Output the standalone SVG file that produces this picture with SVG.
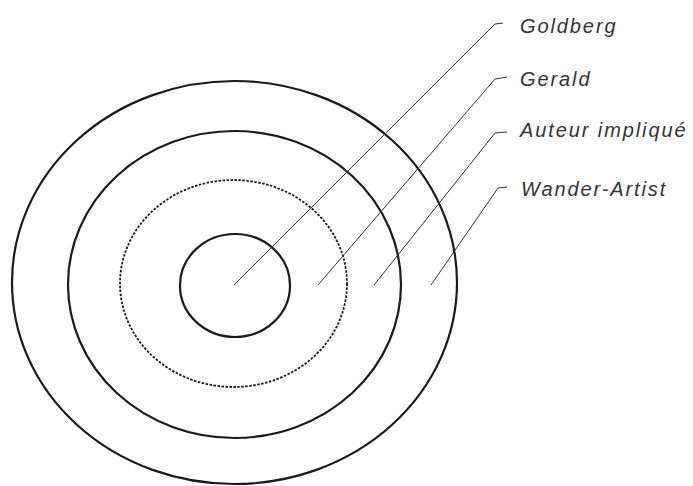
<svg xmlns="http://www.w3.org/2000/svg" width="693" height="486" viewBox="0 0 693 486">
<style>
.ring{fill:none;stroke:#1a1a1a;stroke-width:2.2}
.dot{fill:none;stroke:#1a1a1a;stroke-width:1.8;stroke-dasharray:2.5 1.5}
.lead{fill:none;stroke:#333;stroke-width:1}
.lbl{font-family:"Liberation Sans",Arial,sans-serif;font-style:italic;font-size:20px;letter-spacing:1.9px;fill:#333}
</style>
<rect width="693" height="486" fill="#fff"/>
<g id="wander-artist">
<ellipse class="ring" cx="234.5" cy="282.5" rx="222.5" ry="201.5"/>
</g>
<g id="auteur-implique">
<ellipse class="ring" cx="234.5" cy="284.5" rx="166.5" ry="153.5"/>
</g>
<g id="gerald">
<ellipse class="dot" cx="233.5" cy="283.5" rx="113.5" ry="103.5"/>
</g>
<g id="goldberg">
<ellipse class="ring" cx="235" cy="285.5" rx="55" ry="51.5"/>
</g>
<g id="connectors">
<polyline class="lead" points="234,285 495,24 503,23"/>
<polyline class="lead" points="318,285 495,79 507,77"/>
<polyline class="lead" points="374,285 495,133 507,132"/>
<polyline class="lead" points="431,285 498,188 507,187"/>
</g>
<g id="labels">
<text class="lbl" x="520" y="33">Goldberg</text>
<text class="lbl" x="520" y="86">Gerald</text>
<text class="lbl" x="520" y="137">Auteur impliqué</text>
<text class="lbl" x="521" y="196">Wander-Artist</text>
</g>
</svg>
